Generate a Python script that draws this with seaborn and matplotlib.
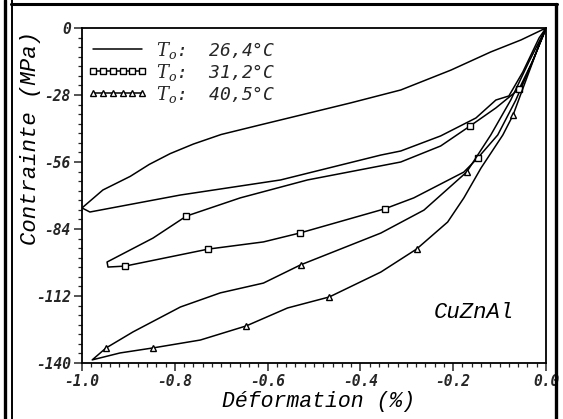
import matplotlib
matplotlib.use("Agg")
import matplotlib.pyplot as plt
import seaborn as sns
from matplotlib.lines import Line2D
from matplotlib.ticker import MultipleLocator, FormatStrFormatter

# --- data (strain in %, stress in MPa) ---
TEMPS = ["26,4°C", "31,2°C", "40,5°C"]

# T0 = 26.4 C : origin -> upper branch -> apex -> lower branch -> origin
strain_1 = [0.0, -0.054, -0.119, -0.205, -0.313, -0.421, -0.529, -0.616, -0.700, -0.760,
            -0.810, -0.855, -0.896, -0.955, -1.0, -0.983, -0.788, -0.572, -0.356, -0.313,
            -0.227, -0.151, -0.108, -0.080, -0.050, -0.015, 0.0]
stress_1 = [0.0, -5.0, -10.0, -17.6, -25.9, -31.3, -36.4, -40.5, -44.5, -48.5,
            -52.5, -57.0, -62.0, -67.7, -75.2, -76.9, -69.8, -63.5, -53.1, -51.4,
            -45.1, -37.6, -30.1, -28.4, -18.4, -4.2, 0.0]

# T0 = 31.2 C
strain_2 = [0.004, -0.028, -0.058, -0.108, -0.164, -0.227, -0.313, -0.514, -0.659, -0.775,
            -0.847, -0.946, -0.944, -0.907, -0.728, -0.609, -0.531, -0.348, -0.285, -0.177,
            -0.147, -0.104, -0.065, -0.032, 0.0]
stress_2 = [1.5, -13.4, -25.5, -33.4, -41.0, -49.3, -56.0, -63.5, -71.0, -78.6,
            -87.8, -97.8, -99.9, -99.5, -92.4, -89.4, -85.7, -75.6, -71.0, -60.2,
            -54.3, -44.7, -30.1, -15.5, 0.0]
marks_2 = [0, 2, 4, 9, 13, 14, 16, 17, 20]

# T0 = 40.5 C
strain_3 = [0.0, -0.037, -0.076, -0.119, -0.171, -0.263, -0.356, -0.529, -0.609, -0.702,
            -0.788, -0.890, -0.948, -0.978, -0.918, -0.847, -0.745, -0.646, -0.557, -0.467,
            -0.356, -0.279, -0.212, -0.177, -0.140, -0.093, -0.071, -0.043, -0.015, 0.0]
stress_3 = [0.0, -14.2, -30.1, -44.7, -60.2, -76.1, -85.7, -99.0, -106.6, -110.7,
            -116.6, -127.0, -133.7, -138.7, -135.8, -133.7, -130.4, -124.5, -117.0, -112.4,
            -102.0, -92.4, -81.1, -71.0, -58.5, -44.7, -36.4, -21.7, -7.1, 0.0]
marks_3 = [4, 7, 12, 15, 17, 19, 21, 26]

W, H = 563, 419

sns.set_style("ticks")
plt.rcParams["font.family"] = ["DejaVu Sans Mono", "DejaVu Sans"]
plt.rcParams["font.style"] = "oblique"
plt.rcParams["mathtext.fontset"] = "dejavuserif"
plt.rcParams["axes.unicode_minus"] = False

fig = plt.figure(figsize=(W / 100, H / 100), dpi=100)
ax = fig.add_axes([82 / W, 1 - 363 / H, (546 - 82) / W, (363 - 28) / H])

line_kw = dict(color="black", lw=1.1, sort=False, estimator=None, ax=ax, legend=False)
mk_kw = dict(ms=4.8, mfc="white", mec="black", mew=1.0)

sns.lineplot(x=strain_1, y=stress_1, **line_kw)
sns.lineplot(x=strain_2, y=stress_2, marker="s", markevery=marks_2, **mk_kw, **line_kw)
sns.lineplot(x=strain_3, y=stress_3, marker="^", markevery=marks_3, **mk_kw, **line_kw)

ax.set_xlim(-1.0, 0.0)
ax.set_ylim(-140, 0)
ax.xaxis.set_major_locator(MultipleLocator(0.2))
ax.xaxis.set_minor_locator(MultipleLocator(0.02))
ax.yaxis.set_major_locator(MultipleLocator(28))
ax.yaxis.set_minor_locator(MultipleLocator(4))
ax.xaxis.set_major_formatter(FormatStrFormatter("%.1f"))
ax.yaxis.set_major_formatter(FormatStrFormatter("%d"))
ax.tick_params(which="major", direction="out", length=6, width=1.1,
               labelsize=10.5, pad=2, top=False, right=False)
ax.tick_params(which="minor", direction="out", length=3, width=0.9, top=False, right=False)
for lbl in ax.get_xticklabels() + ax.get_yticklabels():
    lbl.set_fontweight("bold")

for sp in ax.spines.values():
    sp.set_linewidth(1.3)
    sp.set_color("black")

lab_font = dict(family="Liberation Mono", style="italic", weight="normal", color="black")
ax.set_xlabel("Déformation (%)", fontsize=15.5, **lab_font)
ax.set_ylabel("Contrainte (MPa)", fontsize=16, **lab_font)
ax.xaxis.set_label_coords(0.509, -0.083)
ax.yaxis.set_label_coords(-0.088, 0.672)

ax.text(0.845, 0.152, "CuZnAl", transform=ax.transAxes, ha="center", va="center",
        fontsize=16, **lab_font)

handles = [
    Line2D([], [], color="black", lw=1.1),
    Line2D([], [], color="black", lw=1.1, marker="s", **mk_kw),
    Line2D([], [], color="black", lw=1.1, marker="^", **mk_kw),
]
labels = [r"$T_o$:  " + t for t in TEMPS]
ax.legend(handles, labels, loc="upper left", bbox_to_anchor=(0.013, 0.965),
          frameon=False, numpoints=6, handlelength=3.3, handletextpad=0.45,
          labelspacing=0.05, borderpad=0, borderaxespad=0,
          prop=dict(family="DejaVu Sans Mono", style="oblique", size=13))

# scanned page frame around the figure
def px_line(xs, ys, lw):
    fig.add_artist(Line2D([x / W for x in xs], [1 - y / H for y in ys],
                          transform=fig.transFigure, color="black", lw=lw))

px_line([5, 5], [0, H], 2.4)
px_line([11.5, 11.5], [0, H], 1.4)
px_line([11, 557], [4, 4], 2.2)
px_line([556, 556], [4, H], 2.4)

fig.savefig("out.png", dpi=100)
